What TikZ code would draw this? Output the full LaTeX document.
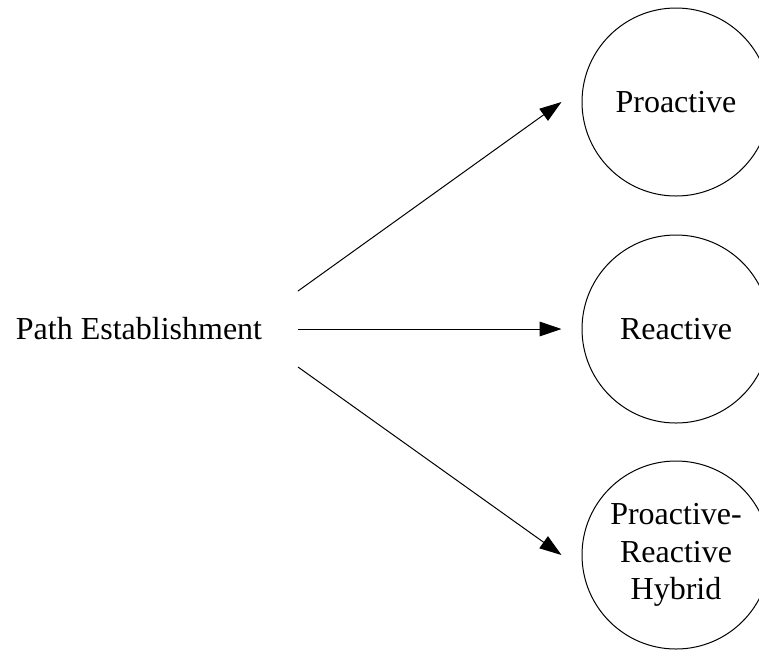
\documentclass[tikz,border=0pt]{standalone}
\usepackage{fontspec}
\setmainfont{Liberation Serif}
\usetikzlibrary{positioning}
\usetikzlibrary{arrows.meta}

\begin{document}
\begin{tikzpicture}[x=0.75pt,y=-0.75pt]

          \tikzstyle{methodNode} = [draw,circle,line width=0.75pt,minimum size=141pt,inner sep=0pt,align=center,font=\fontsize{24}{28}\selectfont];
          \tikzstyle{rootNode} = [font=\fontsize{24}{28}\selectfont];
          \tikzstyle{fanEdge} = [line width=0.75pt,-{Triangle[length=16.5pt,width=11pt]}];

          \useasboundingbox (0,0) rectangle (759,651);

          \node[rootNode] (pe) at (139,329) {Path Establishment};
          \node[methodNode] (pro) at (676,102) {Proactive};
          \node[methodNode] (rea) at (676,329) {Reactive};
          \node[methodNode] (hyb) at (676,555) {Proactive-\\Reactive\\Hybrid};

          \coordinate (peUp) at (298,291);
          \coordinate (peMid) at (298,329);
          \coordinate (peDown) at (298,367);
          \coordinate (proIn) at ([xshift=-15pt]pro.west);
          \coordinate (reaIn) at ([xshift=-15pt]rea.west);
          \coordinate (hybIn) at ([xshift=-15pt]hyb.west);

          \draw[fanEdge] (peUp) -- (proIn);
          \draw[fanEdge] (peMid) -- (reaIn);
          \draw[fanEdge] (peDown) -- (hybIn);
        \end{tikzpicture}
\end{document}
